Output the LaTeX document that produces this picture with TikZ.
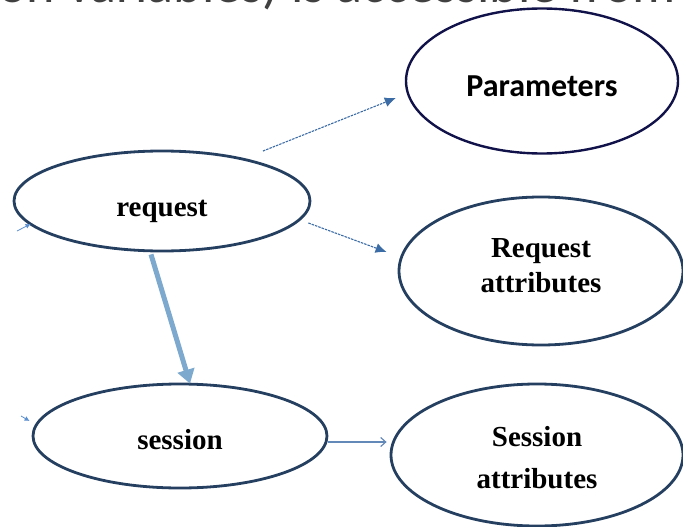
\documentclass[tikz,border=0pt]{standalone}
\usepackage{fontspec}
\setmainfont{Liberation Serif}
\newfontfamily\calibrifont{Carlito}
\usetikzlibrary{shapes.geometric, arrows.meta}

\definecolor{ringblue}{HTML}{243F60}
\definecolor{ringnavy}{HTML}{12124A}
\definecolor{linkblue}{HTML}{3C6CA6}
\definecolor{paleblue}{HTML}{7DA9CF}
\definecolor{stubblue}{HTML}{5B8FD0}
\definecolor{titlegray}{HTML}{404040}

\begin{document}
\begin{tikzpicture}[x=1pt, y=-1pt,
    bubble/.style={draw=ringblue, line width=2.8pt, ellipse, inner sep=0pt},
    bubbletext/.style={inner sep=0pt, align=center, font=\fontsize{29}{35}\selectfont\bfseries},
    link/.style={linkblue, line width=1.1pt, dash pattern=on 2.5pt off 1pt,
        -{Latex[length=11pt, width=10pt]}},
    stub/.style={stubblue, line width=0.8pt, -{Latex[length=5pt, width=5pt]}}
  ]
    \useasboundingbox (0,0) rectangle (683,527);
    \clip (0,0) rectangle (683,527);

    % heading, cut off by the top edge
    \node[anchor=base west, inner sep=0pt, text=titlegray,
          font=\calibrifont\fontsize{54}{60}\selectfont] (heading) at (-2,3)
          {on variables) is accessible from e};

    % scopes
    \node[bubble, draw=ringnavy, line width=2.4pt, minimum width=272pt, minimum height=145pt] (params) at (542,81) {};
    \node[bubble, minimum width=296pt, minimum height=100pt] (request) at (162,201) {};
    \node[bubble, minimum width=284pt, minimum height=148pt] (reqattr) at (541,271) {};
    \node[bubble, minimum width=294pt, minimum height=104pt] (session) at (180,436) {};
    \node[bubble, minimum width=292pt, minimum height=142pt] (sesattr) at (537,455) {};

    \node[bubbletext, font=\calibrifont\fontsize{32}{38}\selectfont\bfseries] (paramstext)
        at ([yshift=-5pt]params.center) {Parameters};
    \node[bubbletext] (requesttext) at ([yshift=-10pt]request.center) {request};
    \node[bubbletext] (reqattrtext) at ([yshift=5pt]reqattr.center) {Request\\attributes};
    \node[bubbletext] (sessiontext) at ([yshift=-4pt]session.center) {session};
    \node[bubbletext, font=\fontsize{29}{42}\selectfont\bfseries] (sesattrtext)
        at ([yshift=-3pt]sesattr.center) {Session\\attributes};

    % incoming stubs
    \coordinate (reqstub) at (17,231);
    \coordinate (sesstub) at (21,416);
    \draw[stub] (reqstub) -- ([xshift=18pt, yshift=-23pt]request.west);
    \draw[stub] (sesstub) -- ([xshift=-2pt, yshift=15pt]session.west);

    % links
    \draw[link] ([xshift=-4.7pt, yshift=13.6pt]request.north east) -- ([xshift=-9pt, yshift=-17pt]params.west);
    \draw[link] ([xshift=-3pt, yshift=-22pt]request.east) -- ([xshift=-11pt, yshift=19pt]reqattr.west);
    \draw[paleblue, line width=5pt, -{Triangle[length=14pt, width=17pt]}]
        ([xshift=-11pt, yshift=-2pt]request.south) -- ([xshift=10pt, yshift=-1pt]session.north);
    \draw[linkblue!80, line width=1.2pt, -{Straight Barb[length=5pt, width=9pt]}, shorten >=3pt]
        ([yshift=-6pt]session.east) -- ([yshift=-6pt]session.east -| sesattr.west);
\end{tikzpicture}
\end{document}
